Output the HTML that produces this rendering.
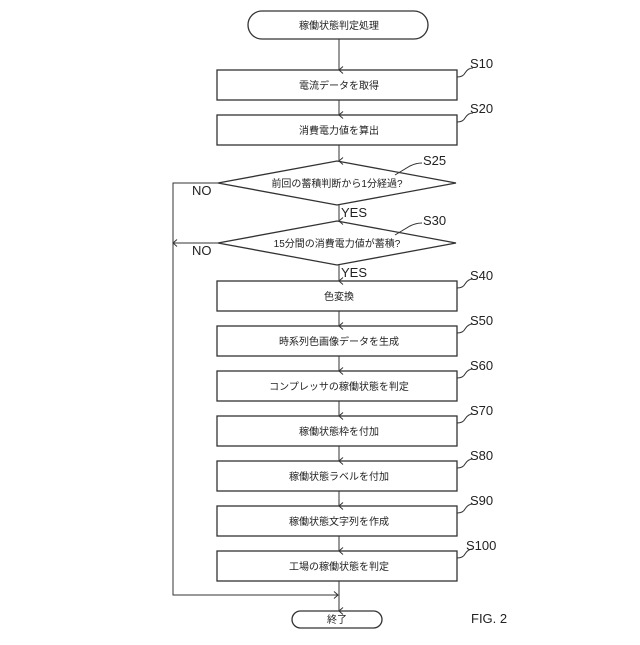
<!DOCTYPE html>
<html><head><meta charset="utf-8"><style>
body{margin:0;background:#fff}
svg text{font-family:"Liberation Sans","Noto Sans CJK JP",sans-serif;fill:#222}
</style></head><body>
<svg width="640" height="640" viewBox="0 0 640 640" xmlns="http://www.w3.org/2000/svg">
<defs><marker id="a" markerWidth="8" markerHeight="8" refX="4" refY="6" orient="auto" markerUnits="userSpaceOnUse"><path d="M0.5,2 L4,6 L7.5,2" fill="none" stroke="#333" stroke-width="1"/></marker>
<marker id="r" markerWidth="8" markerHeight="8" refX="6" refY="4" orient="auto" markerUnits="userSpaceOnUse"><path d="M2,0.5 L6,4 L2,7.5" fill="none" stroke="#333" stroke-width="1"/></marker></defs>
<g stroke="#333" stroke-width="1.3" fill="none">
<rect x="248" y="11" width="180" height="28" rx="14"/>
<rect x="292" y="611" width="90" height="17" rx="8.5"/>
<rect x="217" y="70" width="240" height="30"/>
<rect x="217" y="115" width="240" height="30"/>
<polygon points="218,183 337,161 456,183 337,205"/>
<polygon points="218,243 337,221 456,243 337,265"/>
<rect x="217" y="281" width="240" height="30"/>
<rect x="217" y="326" width="240" height="30"/>
<rect x="217" y="371" width="240" height="30"/>
<rect x="217" y="416" width="240" height="30"/>
<rect x="217" y="461" width="240" height="30"/>
<rect x="217" y="506" width="240" height="30"/>
<rect x="217" y="551" width="240" height="30"/>
</g>
<g stroke="#333" stroke-width="1" fill="none">
<line x1="339" y1="39" x2="339" y2="70" marker-end="url(#a)"/>
<line x1="339" y1="100" x2="339" y2="115" marker-end="url(#a)"/>
<line x1="339" y1="145" x2="339" y2="161" marker-end="url(#a)"/>
<line x1="339" y1="205" x2="339" y2="221" marker-end="url(#a)"/>
<line x1="339" y1="265" x2="339" y2="281" marker-end="url(#a)"/>
<line x1="339" y1="311" x2="339" y2="326" marker-end="url(#a)"/>
<line x1="339" y1="356" x2="339" y2="371" marker-end="url(#a)"/>
<line x1="339" y1="401" x2="339" y2="416" marker-end="url(#a)"/>
<line x1="339" y1="446" x2="339" y2="461" marker-end="url(#a)"/>
<line x1="339" y1="491" x2="339" y2="506" marker-end="url(#a)"/>
<line x1="339" y1="536" x2="339" y2="551" marker-end="url(#a)"/>
<line x1="339" y1="581" x2="339" y2="611" marker-end="url(#a)"/>
<polyline points="218,183 173,183 173,595 338,595" marker-end="url(#r)"/>
<line x1="218" y1="243" x2="173" y2="243" marker-end="url(#r)"/>
<path d="M457,77 q6,0 8,-4 q3,-5 8,-5"/>
<path d="M457,122 q6,0 8,-4 q3,-5 8,-5"/>
<path d="M395,175 q10,-6 15,-9 q6,-3 12,-3"/>
<path d="M395,235 q10,-6 15,-9 q6,-3 12,-3"/>
<path d="M457,288 q6,0 8,-4 q3,-5 8,-5"/>
<path d="M457,333 q6,0 8,-4 q3,-5 8,-5"/>
<path d="M457,378 q6,0 8,-4 q3,-5 8,-5"/>
<path d="M457,423 q6,0 8,-4 q3,-5 8,-5"/>
<path d="M457,468 q6,0 8,-4 q3,-5 8,-5"/>
<path d="M457,513 q6,0 8,-4 q3,-5 8,-5"/>
<path d="M457,558 q6,0 8,-4 q3,-5 8,-5"/>
</g>
<g font-size="10" text-anchor="middle">
<text x="339" y="29">稼働状態判定処理</text>
<text x="339" y="89">電流データを取得</text>
<text x="339" y="134">消費電力値を算出</text>
<text x="337" y="187">前回の蓄積判断から1分経過?</text>
<text x="337" y="247">15分間の消費電力値が蓄積?</text>
<text x="339" y="300">色変換</text>
<text x="339" y="345">時系列色画像データを生成</text>
<text x="339" y="390">コンプレッサの稼働状態を判定</text>
<text x="339" y="435">稼働状態枠を付加</text>
<text x="339" y="480">稼働状態ラベルを付加</text>
<text x="339" y="525">稼働状態文字列を作成</text>
<text x="339" y="570">工場の稼働状態を判定</text>
<text x="337" y="623">終了</text>
</g>
<g font-size="13">
<text x="470" y="68">S10</text><text x="470" y="113">S20</text>
<text x="423" y="165">S25</text><text x="423" y="225">S30</text>
<text x="470" y="280">S40</text><text x="470" y="325">S50</text>
<text x="470" y="370">S60</text><text x="470" y="415">S70</text>
<text x="470" y="460">S80</text><text x="470" y="505">S90</text>
<text x="466" y="550">S100</text>
<text x="192" y="195">NO</text><text x="192" y="255">NO</text>
<text x="341" y="217">YES</text><text x="341" y="277">YES</text>
<text x="471" y="623">FIG. 2</text>
</g>
</svg>
</body></html>
